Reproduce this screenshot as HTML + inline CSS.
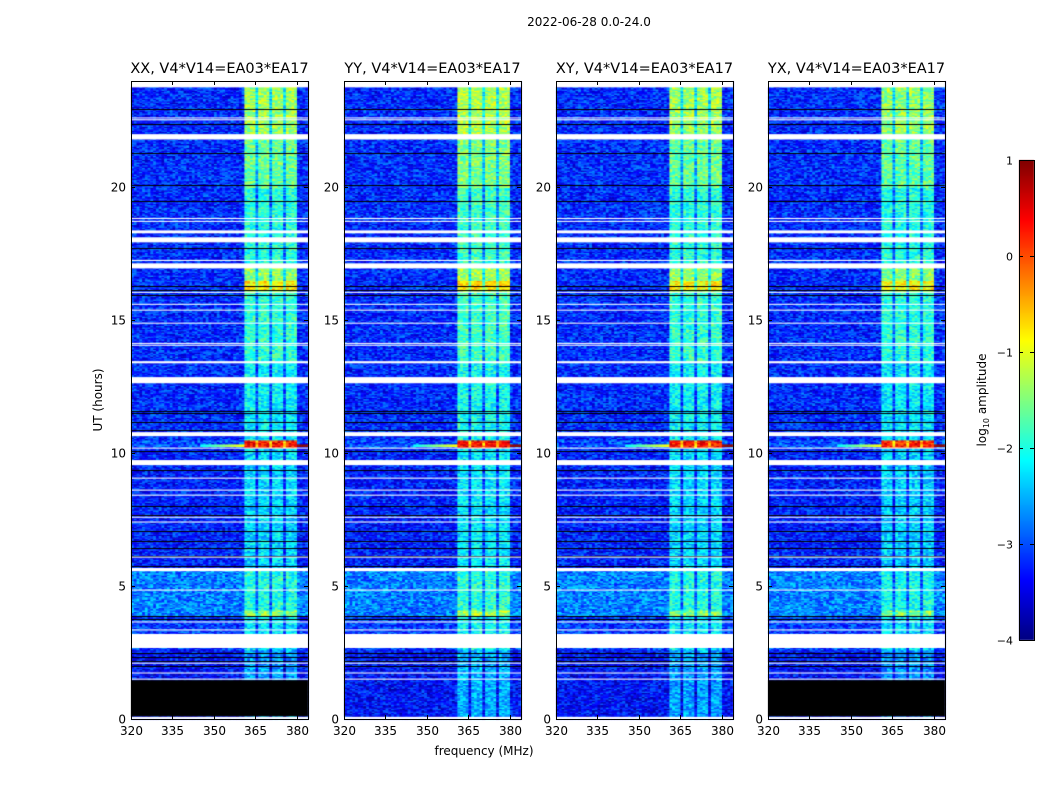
<!DOCTYPE html>
<html><head><meta charset="utf-8">
<style>
body{margin:0;background:#fff;width:1050px;height:800px;overflow:hidden;font-family:"DejaVu Sans","Liberation Sans",sans-serif;}
#wrap{position:relative;width:1050px;height:800px;}
canvas,svg{position:absolute;left:0;top:0;}
</style></head>
<body>
<div id="wrap">
<canvas id="cv" width="1050" height="800"></canvas>
<svg id="ov" width="1050" height="800"></svg>
</div>
<script>
// ---- data ----
const panelNames = ["XX","YY","XY","YX"];
const panelLeft = [131,344,556,768];
const xTicks = [320,335,350,365,380];
const yTicks = [0,5,10,15,20];
const cbTicks = [1,0,-1,-2,-3,-4];
const bandEdges = [360.5,380];
const bandDividers = [365.5,370.5,375.2];
// [t0,t1,level] band amplitude by time (log10)
const bandLevels = [[0,2.6,-2.6],[2.6,3.9,-2.2],[3.9,4.1,-1.4],[4.1,5.6,-2.0],[5.6,10.2,-2.3],[10.2,10.5,0.3],[10.5,13.4,-2.15],[13.4,16.1,-1.9],[16.1,16.5,-0.8],[16.5,17.1,-1.4],[17.1,20,-1.95],[20,22,-1.6],[22,23.8,-1.35]];
const bgLevels = [[0,2.6,-3.35],[2.6,3.9,-3.1],[3.9,5.6,-2.75],[5.6,10.2,-3.25],[10.2,10.5,-3.0],[10.5,23.8,-3.2]];
const rfiRow = [10.25,10.36,0.1];
const whiteFlags = [[23.76,24],[22.6,22.63],[22.52,22.56],[21.8,22.0],[18.81,18.85],[18.7,18.74],[18.27,18.38],[17.93,18.12],[17.23,17.27],[16.95,17.14],[16.03,16.07],[15.58,15.62],[15.36,15.4],[14.87,14.91],[14.11,14.15],[14.04,14.08],[13.38,13.46],[12.63,12.86],[10.64,10.79],[10.17,10.21],[9.55,9.74],[9.04,9.08],[8.59,8.63],[8.4,8.44],[7.57,7.61],[7.39,7.43],[6.07,6.11],[5.56,5.68],[4.83,4.87],[3.63,3.67],[3.33,3.37],[2.67,3.2],[2.08,2.12],[1.71,1.75],[1.48,1.52],[0,0.08]];
const blackFlags = [22.93,22.37,21.3,20.07,19.47,17.7,16.13,16.28,15.94,11.58,11.5,11.18,10.88,10.08,9.35,8.0,7.68,7.08,6.7,6.44,6.14,5.76,3.86,3.75,2.5,2.35,2.2,2.0];
const blackBlock = {XX:[0.1,1.46],YY:null,XY:null,YX:[0.1,1.46]};
const panelGain = [0,0.1,0,-0.05];
// ---- geometry ----
const top0=81, bot0=719, pw=177;
const yOf = t => bot0 - (t/24)*(bot0-top0);
const xOf = (p,f) => panelLeft[p] + (f-320)/(384-320)*pw;
function jet(v){ // v in [-4,1]
  let x=(v+4)/5; x=Math.max(0,Math.min(1,x));
  const c=t=>Math.max(0,Math.min(1,1.5-Math.abs(4*x-t)));
  return `rgb(${Math.round(255*c(3))},${Math.round(255*c(2))},${Math.round(255*c(1))})`;
}
function hash(a,b,c){let h=(a*374761393+b*668265263+c*2147483647)|0;h=(h^(h>>>13))*1274126177|0;h^=h>>>16;return ((h>>>0)%10000)/10000;}
function lvl(arr,t){for(const s of arr){if(t>=s[0]&&t<s[1])return s[2];}return null;}
const cv=document.getElementById('cv');const ctx=cv.getContext('2d');
const dt=0.05, df=1;
for(let p=0;p<4;p++){
  for(let t=0;t<24;t+=dt){
    const tm=t+dt/2;
    const y0=yOf(t+dt), y1=yOf(t);
    for(let f=320;f<384;f+=df){
      const fm=f+df/2;
      let v;
      const n=hash(Math.round(t*20),f,p)-0.5;
      const inBand=fm>bandEdges[0]&&fm<bandEdges[1];
      if(inBand){
        v=(lvl(bandLevels,tm)??-3)+panelGain[p]+n*0.9;
        for(const d of bandDividers){if(Math.abs(fm-d)<0.6)v-=0.9;}
      } else {
        v=(lvl(bgLevels,tm)??-3.2)+n*1.0;
        if(tm>=rfiRow[0]&&tm<rfiRow[1]&&fm>345)v=-2.2+(fm-345)/15*1.3;
      }
      ctx.fillStyle=jet(v);
      ctx.fillRect(xOf(p,f),y0,xOf(p,f+df)-xOf(p,f)+0.5,y1-y0+0.5);
    }
  }
  const L=panelLeft[p];
  ctx.fillStyle='#000';
  for(const b of blackFlags){const y=yOf(b);ctx.fillRect(L,Math.round(y),pw,1);}
  const bb=blackBlock[panelNames[p]];
  if(bb){ctx.fillRect(L,yOf(bb[1]),pw,yOf(bb[0])-yOf(bb[1]));}
  ctx.fillStyle='#fff';
  for(const w of whiteFlags){const ya=yOf(w[1]),yb=yOf(w[0]);ctx.fillRect(L,ya,pw,Math.max(1,yb-ya));}
}
// colorbar
const cbX=1019,cbW=15,cbT=160,cbB=640;
for(let y=cbT;y<cbB;y++){const v=1-(y-cbT)/(cbB-cbT)*5;ctx.fillStyle=jet(v);ctx.fillRect(cbX,y,cbW,1);}
// ---- overlay ----
const ov=document.getElementById('ov');const NS='http://www.w3.org/2000/svg';
function mk(tag,attrs,txt){const e=document.createElementNS(NS,tag);for(const k in attrs)e.setAttribute(k,attrs[k]);if(txt!==undefined)e.textContent=txt;ov.appendChild(e);return e;}
let e;
e=mk('text',{x:589,y:26,'font-size':12,'text-anchor':'middle','font-family':'DejaVu Sans, Liberation Sans, sans-serif'},'2022-06-28 0.0-24.0');


for(let p=0;p<4;p++){
  const L=panelLeft[p];
  e=mk('rect',{x:L+0.5,y:top0+0.5,width:pw,height:bot0-top0,fill:'none',stroke:'#000','stroke-width':1});
  
  
  e=mk('text',{x:L+pw/2,y:73,'font-size':14.5,'text-anchor':'middle','font-family':'DejaVu Sans, Liberation Sans, sans-serif'},panelNames[p]+', V4*V14=EA03*EA17');
  
  
  for(const f of xTicks){
    const x=Math.round(xOf(p,f))+0.5;
    mk('line',{x1:x,x2:x,y1:bot0,y2:bot0-4,stroke:'#000'});
    mk('line',{x1:x,x2:x,y1:top0,y2:top0+4,stroke:'#000'});
    e=mk('text',{x:x,y:bot0+16,'font-size':12,'text-anchor':'middle','font-family':'DejaVu Sans, Liberation Sans, sans-serif'},String(f));
    
    
  }
  for(const t of yTicks){
    const y=Math.round(yOf(t))+0.5;
    mk('line',{x1:L,x2:L+4,y1:y,y2:y,stroke:'#000'});
    mk('line',{x1:L+pw,x2:L+pw-4,y1:y,y2:y,stroke:'#000'});
    e=mk('text',{x:L-5,y:y+4,'font-size':12,'text-anchor':'end','font-family':'DejaVu Sans, Liberation Sans, sans-serif'},String(t));
    
    
  }
}
e=mk('text',{x:484,y:755,'font-size':12,'text-anchor':'middle','font-family':'DejaVu Sans, Liberation Sans, sans-serif'},'frequency (MHz)');


e=mk('text',{x:0,y:0,'font-size':12,'text-anchor':'middle','font-family':'DejaVu Sans, Liberation Sans, sans-serif',transform:'translate(102,400) rotate(-90)'},'UT (hours)');


e=mk('rect',{x:cbX+0.5,y:cbT+0.5,width:cbW,height:cbB-cbT,fill:'none',stroke:'#000'});


for(const v of cbTicks){
  const y=Math.round(cbT+(1-v)/5*(cbB-cbT))+0.5;
  mk('line',{x1:cbX,x2:cbX+4,y1:y,y2:y,stroke:'#000'});
  mk('line',{x1:cbX+cbW,x2:cbX+cbW-4,y1:y,y2:y,stroke:'#000'});
  e=mk('text',{x:1013,y:y+4,'font-size':11,'text-anchor':'end','font-family':'DejaVu Sans, Liberation Sans, sans-serif'},v<0?'\u2212'+Math.abs(v):String(v));
  
  
}
e=mk('text',{x:0,y:0,'font-size':12,'text-anchor':'middle','font-family':'DejaVu Sans, Liberation Sans, sans-serif',transform:'translate(986,400) rotate(-90)'});


e.innerHTML='log<tspan font-size="8" dy="3">10</tspan><tspan dy="-3"> amplitude</tspan>';
</script>
</body></html>
